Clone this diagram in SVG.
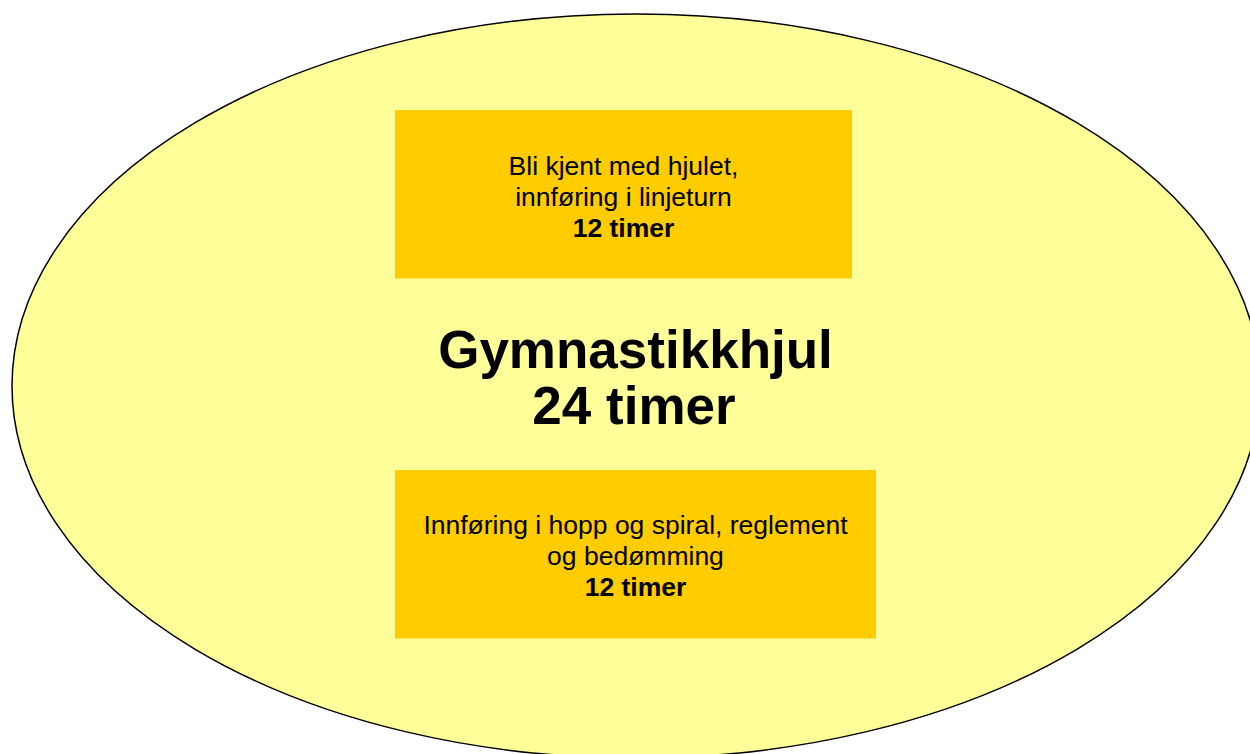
<svg xmlns="http://www.w3.org/2000/svg" width="1250" height="754" viewBox="0 0 1250 754">
<style>
.box{fill:#FFCC00;stroke:none}
.t{font-family:"Liberation Sans",Arial,sans-serif;font-size:26.5px;fill:#000;text-anchor:middle}
.b{font-weight:bold}
.title{font-family:"Liberation Sans",Arial,sans-serif;font-weight:bold;font-size:53px;fill:#000;text-anchor:middle}
</style>
<rect x="0" y="0" width="1250" height="754" fill="#FFFFFF"/>
<g id="wheel">
<ellipse cx="636" cy="386" rx="624" ry="372" fill="#FFFF99" stroke="#000" stroke-width="1.5"/>
<text class="title" x="635.5" y="368">Gymnastikkhjul</text>
<text class="title" x="634" y="424">24 timer</text>
</g>
<g id="node1">
<rect class="box" x="395" y="110" width="457" height="168.5"/>
<text class="t" x="623.5" y="175">Bli kjent med hjulet,</text>
<text class="t" x="623.5" y="206">innføring i linjeturn</text>
<text class="t b" x="623.5" y="237">12 timer</text>
</g>
<g id="node2">
<rect class="box" x="395" y="470" width="481" height="168.5"/>
<text class="t" x="635.5" y="534">Innføring i hopp og spiral, reglement</text>
<text class="t" x="635.5" y="565">og bedømming</text>
<text class="t b" x="635.5" y="596">12 timer</text>
</g>
<g id="connectors"></g>
</svg>
